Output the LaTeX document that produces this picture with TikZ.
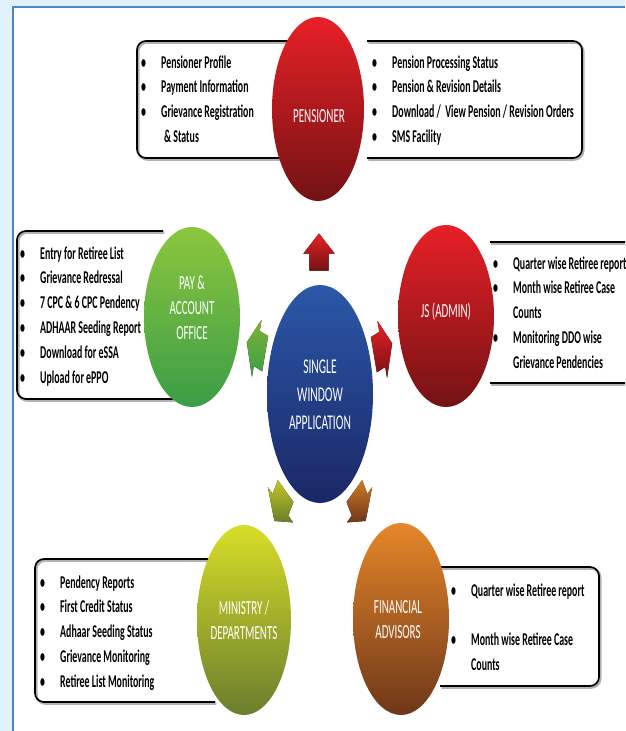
\documentclass[tikz,border=0pt]{standalone}
\usepackage{fontspec}
\setmainfont{Carlito}
\newfontfamily\narrowfont{Carlito}[FakeStretch=0.55]
\usetikzlibrary{shapes.geometric}
\definecolor{bgblue}{HTML}{E1F1FB}
\definecolor{frameblue}{HTML}{4A86C8}
\definecolor{redtop}{HTML}{E82026}
\definecolor{redbot}{HTML}{731214}
\definecolor{greentop}{HTML}{8CC63E}
\definecolor{greenbot}{HTML}{3A9D46}
\definecolor{bluetop}{HTML}{2A58A8}
\definecolor{bluebot}{HTML}{1B2766}
\definecolor{olivetop}{HTML}{D7DE28}
\definecolor{olivebot}{HTML}{6A7D2D}
\definecolor{orangetop}{HTML}{E6872A}
\definecolor{orangebot}{HTML}{6E3719}
\newcommand{\bu}{\makebox[20pt][l]{\textbullet}}
\newcommand{\blockarrow}[6]{%
  \begin{scope}[shift={(#2,#3)},xscale=0.52,rotate=#4]
    \coordinate (#1-a) at (-18.5pt,-18.5pt);
    \coordinate (#1-b) at (-1.5pt,-18.5pt);
    \coordinate (#1-c) at (-1.5pt,-30pt);
    \coordinate (#1-d) at (18.5pt,0pt);
    \coordinate (#1-e) at (-1.5pt,30pt);
    \coordinate (#1-f) at (-1.5pt,18.5pt);
    \coordinate (#1-g) at (-18.5pt,18.5pt);
  \end{scope}
  \fill[top color=#5,bottom color=#6] (#1-a)--(#1-b)--(#1-c)--(#1-d)--(#1-e)--(#1-f)--(#1-g)--cycle;}
\newcommand{\framedpath}[1]{\draw[boxshadow] #1; \draw[boxline] #1;}
\tikzset{
  boxline/.style={draw=black, line width=1.7pt, rounded corners=9pt},
  boxshadow/.style={draw=black!30, line width=2.4pt, rounded corners=9pt, shift={(1.3,1.6)}},
  listtext/.style={font=\narrowfont\bfseries\fontsize{18}{24.8}\selectfont, inner sep=0pt, anchor=base west, text=black},
  bubble/.style={ellipse, inner sep=0pt},
  elltext/.style={text=white, font=\narrowfont\fontsize{20}{25}\selectfont, align=center, inner sep=0pt},
}
\begin{document}
\begin{tikzpicture}[x=1pt,y=-1pt]
\useasboundingbox (0,0) rectangle (625,731);
\clip (0,0) rectangle (625,731);
\fill[bgblue] (0,0) rectangle (625,731);
\fill[white] (13,7) rectangle (625,731);
\draw[frameblue, line width=2pt] (13,731) -- (13,7) -- (625,7);

% boxes
\framedpath{(300,41) -- (137,41) -- (137,158) -- (300,158)}
\framedpath{(367,41) -- (582,41) -- (582,158) -- (367,158)}
\framedpath{(163,231) -- (17,231) -- (17,399) -- (173,399)}
\framedpath{(490,242) -- (640,242)}
\framedpath{(490,383) -- (640,383)}
\framedpath{(215,559) -- (35,559) -- (35,702) -- (215,702)}
\framedpath{(440,567) -- (599,567) -- (599,686) -- (440,686)}

% bubbles
\node[bubble, minimum width=92pt, minimum height=184pt, top color=redtop, bottom color=redbot] (pens) at (318,109) {};
\node[bubble, minimum width=96pt, minimum height=180pt, top color=greentop, bottom color=greenbot] (pao) at (192,317) {};
\node[bubble, minimum width=96pt, minimum height=182pt, top color=redtop, bottom color=redbot] (js) at (446,316) {};
\node[bubble, minimum width=106pt, minimum height=218pt, top color=bluetop, bottom color=bluebot] (swa) at (320,394) {};
\node[bubble, minimum width=94pt, minimum height=190pt, top color=olivetop, bottom color=olivebot] (min) at (244,620) {};
\node[bubble, minimum width=96pt, minimum height=192pt, top color=orangetop, bottom color=orangebot] (fa) at (401,619) {};

% bubble texts
\node[elltext] (pens-t) at (319,116) {PENSIONER};
\node[elltext] (pao-t) at (192,308) {PAY \&\\ACCOUNT\\OFFICE};
\node[elltext] (js-t) at (446,312) {JS (ADMIN)};
\node[elltext, font=\narrowfont\fontsize{21}{28}\selectfont] (swa-t) at (320,395) {SINGLE\\WINDOW\\APPLICATION};
\node[elltext] (min-t) at (244,620) {MINISTRY /\\DEPARTMENTS};
\node[elltext] (fa-t) at (398,620) {FINANCIAL\\ADVISORS};

% lists
\node[listtext] (pens-l) at (141,68) {\begin{tabular}[t]{@{}l@{}}\bu Pensioner Profile\\ \bu Payment Information\\ \bu Grievance Registration\\ \hspace*{20pt}\,\& Status\end{tabular}};
\node[listtext] (pens-r) at (372,68) {\begin{tabular}[t]{@{}l@{}}\bu Pension Processing Status\\ \bu Pension \& Revision Details\\ \bu Download /\ \ View Pension / Revision Orders\\ \bu SMS Facility\end{tabular}};
\node[listtext] (pao-l) at (20,259) {\begin{tabular}[t]{@{}l@{}}\bu Entry for Retiree List\\ \bu Grievance Redressal\\ \bu 7 CPC \& 6 CPC Pendency\\ \bu ADHAAR Seeding Report\\ \bu Download for eSSA\\ \bu Upload for ePPO\end{tabular}};
\node[listtext] (js-l) at (493,269) {\begin{tabular}[t]{@{}l@{}}\bu Quarter wise Retiree report\\ \bu Month wise Retiree Case\\ \hspace*{20pt}Counts\\ \bu Monitoring DDO wise\\ \hspace*{20pt}Grievance Pendencies\end{tabular}};
\node[listtext] (min-l) at (40,588) {\begin{tabular}[t]{@{}l@{}}\bu Pendency Reports\\ \bu First Credit Status\\ \bu Adhaar Seeding Status\\ \bu Grievance Monitoring\\ \bu Retiree List Monitoring\end{tabular}};
\node[listtext] (fa-l) at (451,596) {\begin{tabular}[t]{@{}l@{}}\bu Quarter wise Retiree report\\ \\ \bu Month wise Retiree Case\\ \hspace*{20pt}Counts\end{tabular}};

% arrows from the centre to each bubble
\blockarrow{a1}{319}{252}{90}{redtop}{redbot}
\blockarrow{a2}{256}{348}{162}{greentop!90!black}{greenbot}
\blockarrow{a3}{383}{349}{18}{redtop}{redbot}
\blockarrow{a4}{280}{506}{-126}{olivetop!90!black}{olivebot}
\blockarrow{a5}{360}{506}{-54}{orangetop!90!black}{orangebot}
\end{tikzpicture}
\end{document}
